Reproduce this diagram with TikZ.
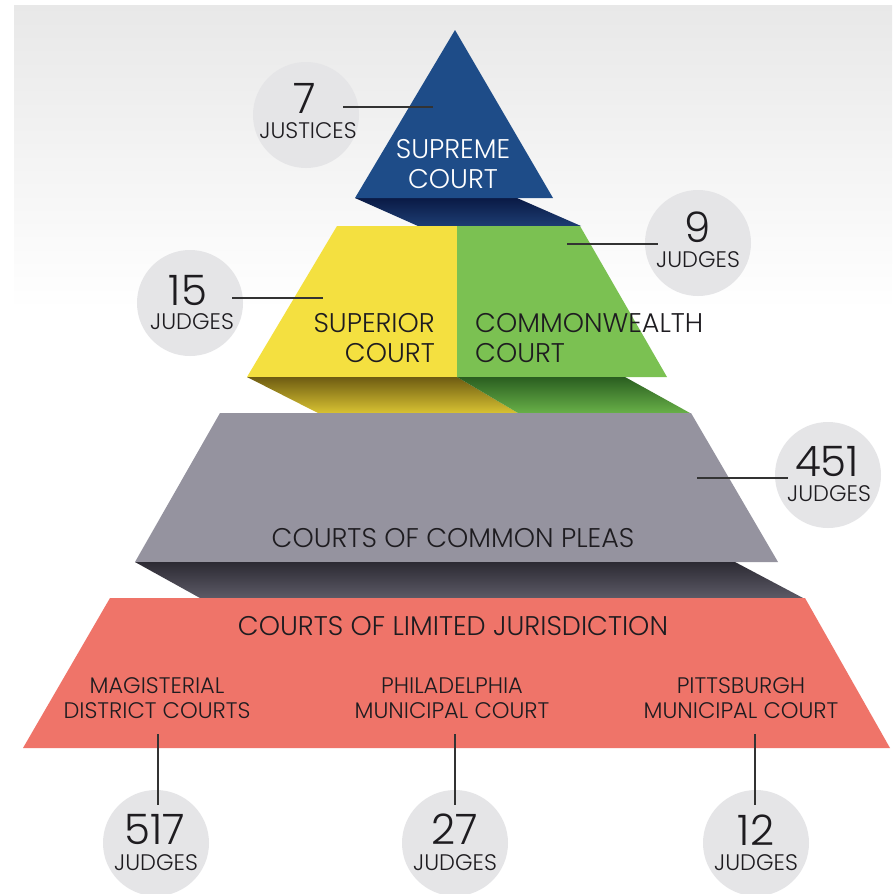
\documentclass[tikz,border=0pt]{standalone}
\usepackage{fontspec}
\setmainfont{Poppins}[UprightFont=* Light]
\definecolor{navy}{HTML}{1E4C88}
\definecolor{navyd}{HTML}{0A1A45}
\definecolor{navyl}{HTML}{1D3D72}
\definecolor{yel}{HTML}{F4E040}
\definecolor{yeld}{HTML}{6E5C12}
\definecolor{yell}{HTML}{D8C232}
\definecolor{grn}{HTML}{7BC152}
\definecolor{grnd}{HTML}{2A5E20}
\definecolor{grnl}{HTML}{68B048}
\definecolor{gry}{HTML}{95939F}
\definecolor{gryd}{HTML}{2C2A33}
\definecolor{gryl}{HTML}{5C5A66}
\definecolor{redc}{HTML}{EF7469}
\definecolor{bub}{HTML}{E5E5E7}
\definecolor{txt}{HTML}{1E1C20}
\definecolor{linec}{HTML}{333333}
\tikzset{
  lbl/.style={font=\fontsize{22.5}{24}\selectfont, text=txt, inner sep=0pt, anchor=base, text height=15pt, text depth=0pt},
  mid/.style={font=\fontsize{27}{28}\selectfont, text=txt, inner sep=0pt, anchor=base},
  num/.style={font=\fontsize{42}{44}\selectfont, text=txt, inner sep=0pt, anchor=base, text height=29pt, text depth=0pt},
  bubble/.style={circle, fill=bub, minimum size=106pt, inner sep=0pt},
  lead/.style={draw=linec, line width=1.1pt}
}
\begin{document}
\begin{tikzpicture}[x=1pt,y=-1pt]
\useasboundingbox (0,0) rectangle (892,894);
\fill[white] (0,0) rectangle (892,894);
\shade[top color=black!9, bottom color=white] (14,5) rectangle (892,310);

% shadow under supreme court
\shade[top color=navyd, bottom color=navyl] (355,198) -- (517,198) -- (581,226) -- (418,226) -- cycle;
% tier 2
\fill[yel] (337,226) -- (457,226) -- (457,377) -- (247,377) -- cycle;
\fill[grn] (457,226) -- (580,226) -- (667,377) -- (457,377) -- cycle;
\shade[top color=yeld, bottom color=yell] (247,377) -- (457,377) -- (518,413) -- (318,413) -- cycle;
\shade[top color=grnd, bottom color=grnl] (457,377) -- (625,377) -- (690,413) -- (518,413) -- cycle;
% supreme
\fill[navy] (455,30) -- (553,198) -- (355,198) -- cycle;
% gray
\fill[gry] (220,413) -- (691,413) -- (778,562) -- (135,562) -- cycle;
\shade[top color=gryd, bottom color=gryl] (135,562) -- (735,562) -- (803,598) -- (200,598) -- cycle;
% red
\fill[redc] (110,598) -- (805,598) -- (890,748) -- (23,748) -- cycle;

% tier texts
\node[mid, text=white] (sup1) at (453,158) {SUPREME};
\node[mid, text=white] (sup2) at (453,188) {COURT};
\node[mid, anchor=base east] (spr1) at (435,332) {SUPERIOR};
\node[mid, anchor=base east] (spr2) at (435,362) {COURT};
\node[mid, anchor=base west] (cw1) at (475,332) {COMMONWEALTH};
\node[mid, anchor=base west] (cw2) at (475,362) {COURT};
\node[mid] (ccp) at (453,547) {COURTS OF COMMON PLEAS};
\node[mid] (clj) at (453,635) {COURTS OF LIMITED JURISDICTION};
\node[lbl] (mag1) at (157,693) {MAGISTERIAL};
\node[lbl] (mag2) at (157,718) {DISTRICT COURTS};
\node[lbl] (phl1) at (452,693) {PHILADELPHIA};
\node[lbl] (phl2) at (452,718) {MUNICIPAL COURT};
\node[lbl] (pit1) at (741,693) {PITTSBURGH};
\node[lbl] (pit2) at (741,718) {MUNICIPAL COURT};

% bubbles
\node[bubble] (b7) at (306,115) {};
\node[bubble] (b9) at (698,243) {};
\node[bubble] (b15) at (190,303) {};
\node[bubble] (b451) at (828,475) {};
\node[bubble] (b517) at (156,843) {};
\node[bubble] (b27) at (455,843) {};
\node[bubble] (b12) at (756,843) {};

% leader lines
\coordinate (l7a) at (343,107); \coordinate (l7b) at (433,107);
\coordinate (l9a) at (567,244); \coordinate (l9b) at (658,244);
\coordinate (l15a) at (232,298); \coordinate (l15b) at (323,298);
\coordinate (l451a) at (697,478); \coordinate (l451b) at (788,478);
\coordinate (l517a) at (158,734); \coordinate (l517b) at (158,805);
\coordinate (l27a) at (455,734); \coordinate (l27b) at (455,805);
\coordinate (l12a) at (755,734); \coordinate (l12b) at (755,805);
\draw[lead] (l7a) -- (l7b);
\draw[lead] (l9a) -- (l9b);
\draw[lead] (l15a) -- (l15b);
\draw[lead] (l451a) -- (l451b);
\draw[lead] (l517a) -- (l517b);
\draw[lead] (l27a) -- (l27b);
\draw[lead] (l12a) -- (l12b);

% bubble texts
\node[num] (n7) at (305,113) {7};
\node[lbl] (t7) at (308,138) {JUSTICES};
\node[num] (n9) at (698,242) {9};
\node[lbl] (t9) at (698,267) {JUDGES};
\node[num] (n15) at (188,305) {15};
\node[lbl] (t15) at (192,329) {JUDGES};
\node[num] (n451) at (827,476) {451};
\node[lbl] (t451) at (829,501) {JUDGES};
\node[num] (n517) at (155,844) {517};
\node[lbl] (t517) at (156,870) {JUDGES};
\node[num] (n27) at (455,844) {27};
\node[lbl] (t27) at (455,870) {JUDGES};
\node[num] (n12) at (756,845) {12};
\node[lbl] (t12) at (756,870) {JUDGES};
\end{tikzpicture}
\end{document}
